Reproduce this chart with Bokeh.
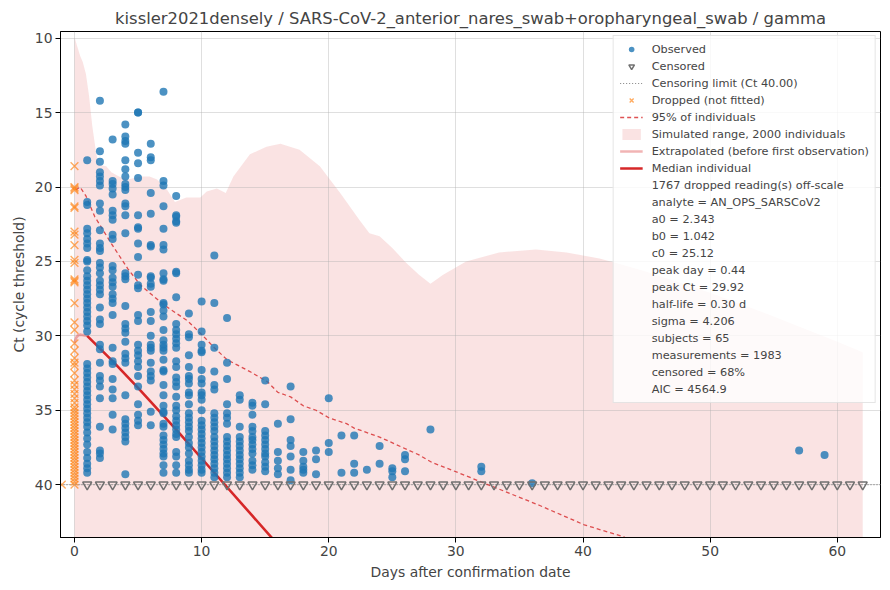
from bokeh.plotting import figure
from bokeh.models import Range1d, Legend, LegendItem, SingleIntervalTicker
from bokeh.embed import file_html
from bokeh.resources import INLINE

TITLE = "kissler2021densely / SARS-CoV-2_anterior_nares_swab+oropharyngeal_swab / gamma"

# observed Ct readings, grouped by day after confirmation
obs_days = [1, 2, 3, 4, 5, 6, 7, 8, 9, 10, 11, 12, 13, 14, 15, 16, 17, 18, 19, 20,
            21, 22, 23, 24, 25, 26, 28, 32, 36, 57, 59]
obs_cts = [
    [18.2, 21.0, 21.2, 22.8, 23.1, 23.5, 23.8, 24.1, 24.9, 25.0, 25.6, 26.0, 26.3, 26.6, 26.9, 27.2,
     27.5, 27.8, 28.1, 28.4, 28.7, 29.0, 29.3, 29.7, 31.9, 32.2, 32.5, 32.8, 33.1, 33.4, 33.7, 34.0,
     34.3, 34.6, 34.9, 35.2, 35.5, 35.8, 36.1, 36.5, 36.9, 37.3, 37.8, 38.2, 38.6, 38.9, 39.2],
    [14.2, 17.6, 18.3, 19.0, 19.3, 19.6, 19.9, 21.1, 21.6, 22.9, 23.8, 24.1, 24.3, 25.1, 25.4, 25.8,
     26.3, 26.6, 26.9, 27.2, 28.1, 28.9, 29.2, 30.6, 30.9, 31.8, 32.7, 33.0, 33.4, 34.2, 36.1, 37.7,
     37.9, 38.2],
    [16.8, 19.6, 19.8, 20.1, 20.5, 21.6, 21.9, 22.2, 23.2, 23.5, 25.3, 25.6, 26.1, 26.4, 26.7, 27.2,
     27.5, 27.8, 28.6, 30.8, 31.7, 31.9, 32.9, 33.6, 34.2, 35.3, 36.3],
    [15.8, 16.6, 16.9, 17.1, 18.2, 18.8, 19.3, 19.8, 20.0, 20.2, 21.1, 21.3, 21.9, 23.1, 25.8, 26.0,
     26.2, 28.0, 29.2, 29.5, 29.8, 30.4, 31.2, 31.5, 31.8, 34.0, 35.6, 35.9, 36.2, 36.5, 36.8, 37.1,
     39.3],
    [15.0, 15.0, 17.7, 18.4, 19.4, 21.9, 22.7, 22.8, 23.8, 24.7, 25.9, 26.6, 26.8, 28.6, 29.0, 30.6,
     31.0, 31.3, 31.7, 32.1, 32.7, 33.4, 34.6, 35.3, 35.7, 36.0],
    [17.1, 18.0, 18.2, 20.4, 21.8, 23.9, 24.0, 26.0, 26.1, 26.5, 26.7, 28.4, 29.0, 30.0, 30.6, 30.8,
     31.0, 31.8, 32.4, 32.7, 33.0, 35.1, 36.0],
    [13.6, 19.6, 19.9, 21.3, 22.8, 23.9, 24.2, 25.8, 26.2, 26.3, 27.8, 27.9, 28.3, 28.7, 29.6, 30.3,
     30.6, 30.8, 31.0, 31.6, 32.3, 32.4, 33.3, 34.0, 34.7, 35.1, 35.2, 35.9, 36.1, 36.7, 37.0, 37.3,
     37.6, 37.9, 38.1, 38.7, 39.2],
    [20.6, 21.9, 22.0, 22.3, 22.4, 25.7, 25.8, 27.4, 29.2, 29.6, 29.9, 30.2, 30.5, 30.8, 31.7, 32.1,
     32.8, 33.1, 33.4, 34.1, 34.7, 35.0, 35.4, 35.7, 36.0, 36.3, 36.6, 36.8, 37.8, 38.1, 38.7, 39.2],
    [28.5, 29.9, 30.1, 31.3, 32.1, 32.7, 32.9, 33.2, 33.8, 34.0, 34.6, 35.2, 35.5, 35.8, 36.1, 36.4,
     36.8, 37.2, 37.5, 37.9, 38.4, 38.7, 39.0, 39.2],
    [27.7, 29.7, 30.6, 31.0, 31.1, 32.3, 32.9, 33.2, 33.8, 34.0, 34.3, 35.0, 35.7, 36.0, 36.3, 36.6,
     36.9, 37.2, 37.5, 37.8, 38.1, 38.4, 38.7, 39.0, 39.2],
    [24.6, 27.8, 30.8, 32.4, 33.3, 33.6, 35.2, 35.5, 35.8, 36.1, 36.4, 36.8, 37.1, 37.4, 37.7, 38.0,
     38.3, 38.6, 38.9, 39.2, 39.5],
    [28.8, 31.8, 32.9, 34.6, 35.2, 35.5, 35.9, 36.8, 37.1, 37.4, 37.7, 38.0, 38.3, 38.6, 38.9, 39.2,
     39.5],
    [34.0, 34.3, 36.1, 36.8, 37.1, 37.4, 37.7, 38.0, 38.3, 38.6, 38.9, 39.2, 39.5],
    [34.5, 34.7, 35.3, 36.1, 36.4, 36.8, 37.0, 37.3, 37.6, 37.9, 38.4, 38.7, 39.0],
    [33.0, 34.6, 36.4, 36.7, 37.0, 37.3, 37.6, 37.9, 38.1, 38.5, 38.8, 39.1],
    [35.9, 37.8, 38.4, 38.9, 39.3],
    [33.4, 35.6, 37.0, 37.4, 38.1, 39.0, 39.7],
    [37.8, 38.4, 38.8, 39.0, 39.2],
    [37.7, 38.3, 39.3],
    [34.2, 37.2, 37.8],
    [36.7, 39.2],
    [36.7, 38.6, 39.2],
    [39.0],
    [37.4, 38.6],
    [38.9, 39.1, 39.5],
    [38.0, 38.3, 39.1],
    [36.3],
    [38.8, 39.1],
    [39.9],
    [37.7],
    [38.0],
]

# censored (Ct >= limit) readings
cens_limit = 40.0
cens_days = [1, 2, 3, 4, 5, 6, 7, 8, 9, 10, 11, 12, 13, 14, 15, 16, 17, 18, 19, 20, 21,
             22, 23, 24, 25, 26, 27, 28, 29, 30, 31, 32, 33, 34, 35, 36, 37, 38, 39, 40, 41,
             42, 43, 44, 45, 46, 47, 48, 49, 50, 51, 52, 53, 54, 55, 56, 57, 58, 59, 60, 61, 62]

# dropped readings (not fitted)
drop_days = [-1] + [0] * 56
drop_cts = [40.0,
            18.6, 20.0, 20.1, 20.2, 21.3, 21.4, 23.0, 23.2, 23.9, 24.9, 25.1, 26.2, 26.3, 26.4,
            27.8, 29.1, 29.6, 30.5, 31.0, 31.5, 31.8, 32.0, 32.5, 33.0, 33.3, 33.6, 33.9, 34.2,
            34.5, 34.8, 35.0, 35.2, 35.4, 35.6, 35.8, 36.0, 36.2, 36.4, 36.6, 36.8, 37.0, 37.2,
            37.4, 37.6, 37.8, 38.0, 38.2, 38.4, 38.6, 38.8, 39.0, 39.2, 39.4, 39.6, 39.8, 40.0]

# model curves
median_days = [1, 3, 5, 8, 11, 14, 17]
median_ct = [30.0, 31.7, 33.5, 36.3, 39.2, 42.1, 45.0]
extrap_days = [0, 0.15, 0.3, 0.44, 0.6, 0.8, 1.0]
extrap_ct = [30.45, 30.1, 29.96, 29.92, 29.94, 29.97, 30.0]
q95_days = [0.1, 0.44, 0.9, 1.6, 2.9, 4.2, 5.2, 7.0, 8.9, 10.0, 11.0, 12.0, 13.8, 15.2, 16.0, 17.0,
            18.0, 19.0, 20.0, 21.4, 22.0, 24.0, 25.8, 27.1, 28.1, 30.2, 33.4, 36.6, 40.1, 43.2, 44.0]
q95_ct = [20.2, 20.0, 20.6, 22.0, 23.8, 25.5, 26.6, 27.9, 29.0, 29.9, 30.8, 31.6, 32.4, 33.1, 33.8,
          34.1, 34.7, 35.0, 35.5, 35.9, 36.2, 36.8, 37.5, 38.0, 38.5, 39.2, 40.3, 41.4, 42.7, 43.5, 43.9]
band_days = [0, 0.2, 0.45, 0.65, 0.9, 1.15, 1.4, 1.7, 1.9, 2.5, 2.9, 3.5, 4.2, 5.2, 5.9, 6.5, 7.3,
             7.9, 8.8, 9.9, 10.4, 11.2, 11.9, 12.5, 13.8, 15.1, 16.2, 17.7, 19.3, 20.9, 22.4, 23.2,
             24.0, 25.0, 26.1, 27.1, 28.0, 29.0, 30.8, 33.4, 36.3, 38.7, 41.3, 42.6, 45, 50, 55, 60, 62]
band_top = [9.9, 10.5, 11.2, 11.6, 12.4, 13.9, 15.9, 17.7, 18.5, 18.6, 19.0, 19.3, 19.5, 19.3, 19.3,
            19.5, 20.2, 21.0, 20.7, 20.7, 20.3, 20.1, 20.4, 19.3, 17.8, 17.3, 17.1, 17.5, 18.6, 20.4,
            22.2, 23.1, 23.3, 24.1, 25.1, 25.9, 26.5, 25.9, 25.0, 24.4, 24.2, 24.4, 24.8, 25.1, 25.7,
            27.1, 28.7, 30.4, 31.1]
band_floor = 60.0

stats_lines = [
    "1767 dropped reading(s) off-scale",
    "analyte = AN_OPS_SARSCoV2",
    "a0 = 2.343",
    "b0 = 1.042",
    "c0 = 25.12",
    "peak day = 0.44",
    "peak Ct = 29.92",
    "half-life = 0.30 d",
    "sigma = 4.206",
    "subjects = 65",
    "measurements = 1983",
    "censored = 68%",
    "AIC = 4564.9",
]

x_lo, x_hi = -1.1, 63.4
y_lo, y_hi = 9.55, 43.55
FONT = "DejaVu Sans"

obs_x = []
obs_y = []
for d, cts in zip(obs_days, obs_cts):
    obs_x += [d] * len(cts)
    obs_y += cts

p = figure(width=890, height=590, output_backend="svg", toolbar_location=None,
           x_range=Range1d(x_lo, x_hi), y_range=Range1d(y_hi, y_lo),
           min_border_left=60, min_border_right=10, min_border_bottom=53, min_border_top=31)

p.title.text = TITLE
p.title.text_font = FONT
p.title.text_font_size = "16.4px"
p.title.text_font_style = "normal"
p.title.align = "center"
p.title.standoff = 8

p.outline_line_color = "black"
p.outline_line_width = 1
p.outline_line_alpha = 1

for ax in (p.xaxis, p.yaxis):
    ax.axis_label_text_font = FONT
    ax.axis_label_text_font_size = "13.9px"
    ax.axis_label_text_font_style = "normal"
    ax.major_label_text_font = FONT
    ax.major_label_text_font_size = "13.9px"
    ax.major_tick_in = 0
    ax.major_tick_out = 5
    ax.minor_tick_line_color = None
    ax.major_label_standoff = 3
    ax.axis_label_standoff = 5
p.xaxis.axis_label = "Days after confirmation date"
p.yaxis.axis_label = "Ct (cycle threshold)"
p.xaxis.ticker = SingleIntervalTicker(interval=10)
p.yaxis.ticker = SingleIntervalTicker(interval=5)

p.grid.grid_line_color = "#b0b0b0"
p.grid.grid_line_alpha = 0.4

band = p.varea(x=band_days, y1=band_top, y2=band_floor, fill_color="#d62728", fill_alpha=0.13, level="image")

lim = p.line(x=[x_lo, x_hi], y=[cens_limit, cens_limit], line_color="#808080", line_width=1.2,
             line_dash="1 2")

q95 = p.line(q95_days, q95_ct, line_color="#d62728", line_alpha=0.8, line_width=1.3, line_dash="4 3")
extrap = p.line(extrap_days, extrap_ct, line_color="#d62728", line_alpha=0.35, line_width=2.6)
med = p.line(median_days, median_ct, line_color="#d62728", line_width=2.6)

obs = p.scatter(obs_x, obs_y, marker="circle", size=8, fill_color="#1f77b4", fill_alpha=0.8,
                line_color=None)
cens = p.scatter(cens_days, [cens_limit] * len(cens_days), marker="inverted_triangle", size=9,
                 fill_color=None, line_color="#707070", line_width=1.5)
drop = p.scatter(drop_days, drop_cts, marker="x", size=11, line_color="#ff7f0e", line_alpha=0.65,
                 line_width=1.4)

blank = p.scatter(x=[], y=[], size=0, fill_alpha=0, line_alpha=0)

items = [
    LegendItem(label="Observed", renderers=[obs]),
    LegendItem(label="Censored", renderers=[cens]),
    LegendItem(label="Censoring limit (Ct 40.00)", renderers=[lim]),
    LegendItem(label="Dropped (not fitted)", renderers=[drop]),
    LegendItem(label="95% of individuals", renderers=[q95]),
    LegendItem(label="Simulated range, 2000 individuals", renderers=[band]),
    LegendItem(label="Extrapolated (before first observation)", renderers=[extrap]),
    LegendItem(label="Median individual", renderers=[med]),
] + [LegendItem(label=s, renderers=[blank]) for s in stats_lines]

legend = Legend(items=items, location="top_right")
legend.label_text_font = FONT
legend.label_text_font_size = "11.3px"
legend.glyph_width = 23
legend.glyph_height = 14
legend.label_height = 14
legend.spacing = 3
legend.padding = 6
legend.margin = 4
legend.label_standoff = 9
legend.border_line_color = "#cccccc"
legend.background_fill_alpha = 0.8
p.add_layout(legend)

open("out.html", "w").write(file_html(p, INLINE))
